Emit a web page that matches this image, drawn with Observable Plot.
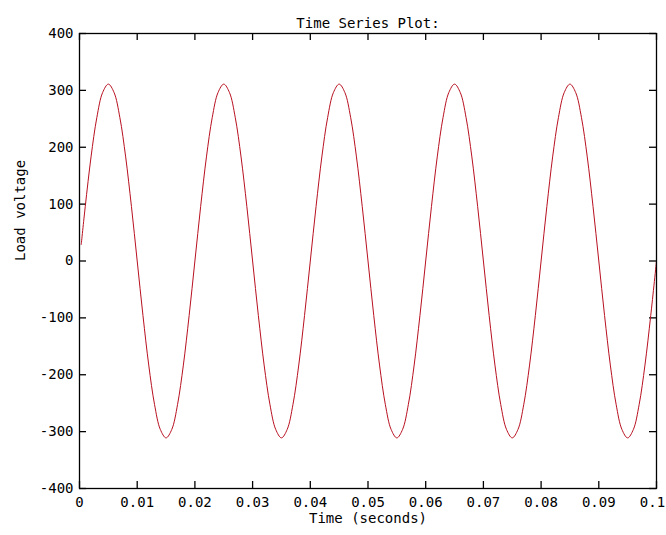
<!DOCTYPE html>
<html><head><meta charset="utf-8">
<script src="https://cdn.jsdelivr.net/npm/d3@7"></script>
<script src="https://cdn.jsdelivr.net/npm/@observablehq/plot@0.6"></script>
<style>body{margin:0;background:#fff} svg{display:block}</style>
</head><body><div id="chart"></div>
<script>
const title = "Time Series Plot:";
const xLabel = "Time (seconds)";
const yLabel = "Load voltage";
const xTicks = [0, 0.01, 0.02, 0.03, 0.04, 0.05, 0.06, 0.07, 0.08, 0.09, 0.1];
const xTickLabels = ["0", "0.01", "0.02", "0.03", "0.04", "0.05", "0.06", "0.07", "0.08", "0.09", "0.1"];
const yTicks = [-400, -300, -200, -100, 0, 100, 200, 300, 400];

const time = [0.0003,
  0.001, 0.002, 0.003, 0.004, 0.005, 0.006, 0.007, 0.008, 0.009, 0.010,
  0.011, 0.012, 0.013, 0.014, 0.015, 0.016, 0.017, 0.018, 0.019, 0.020,
  0.021, 0.022, 0.023, 0.024, 0.025, 0.026, 0.027, 0.028, 0.029, 0.030,
  0.031, 0.032, 0.033, 0.034, 0.035, 0.036, 0.037, 0.038, 0.039, 0.040,
  0.041, 0.042, 0.043, 0.044, 0.045, 0.046, 0.047, 0.048, 0.049, 0.050,
  0.051, 0.052, 0.053, 0.054, 0.055, 0.056, 0.057, 0.058, 0.059, 0.060,
  0.061, 0.062, 0.063, 0.064, 0.065, 0.066, 0.067, 0.068, 0.069, 0.070,
  0.071, 0.072, 0.073, 0.074, 0.075, 0.076, 0.077, 0.078, 0.079, 0.080,
  0.081, 0.082, 0.083, 0.084, 0.085, 0.086, 0.087, 0.088, 0.089, 0.090,
  0.091, 0.092, 0.093, 0.094, 0.095, 0.096, 0.097, 0.098, 0.099, 0.100];
const voltage = [29,
  96, 183, 252, 296, 311, 296, 252, 183, 96, 0,
  -96, -183, -252, -296, -311, -296, -252, -183, -96, 0,
  96, 183, 252, 296, 311, 296, 252, 183, 96, 0,
  -96, -183, -252, -296, -311, -296, -252, -183, -96, 0,
  96, 183, 252, 296, 311, 296, 252, 183, 96, 0,
  -96, -183, -252, -296, -311, -296, -252, -183, -96, 0,
  96, 183, 252, 296, 311, 296, 252, 183, 96, 0,
  -96, -183, -252, -296, -311, -296, -252, -183, -96, 0,
  96, 183, 252, 296, 311, 296, 252, 183, 96, 0,
  -96, -183, -252, -296, -311, -296, -252, -183, -96, 0];

const data = time.map((t, i) => ({t, v: voltage[i]}));

const W = 666, H = 535, mL = 79, mR = 10, mT = 33, mB = 47;
const fw = W - mL - mR, fh = H - mT - mB;
const tick = 7;
const lastX = xTicks[xTicks.length - 1];
const xLabelFmt = d => xTickLabels[xTicks.indexOf(d)];

const chart = Plot.plot({
  width: W, height: H,
  marginLeft: mL, marginRight: mR, marginTop: mT, marginBottom: mB,
  style: {fontFamily: "'DejaVu Sans Mono', monospace", fontSize: "14px", background: "#fff", color: "#000"},
  x: {domain: [0, 0.1]},
  y: {domain: [-400, 400]},
  marks: [
    Plot.axisX({ticks: xTicks.slice(0, -1), tickSize: 0, tickPadding: 9, tickFormat: xLabelFmt, label: null}),
    Plot.axisX({ticks: [lastX], tickSize: 0, tickPadding: 9, tickFormat: xLabelFmt, label: null, dx: -4}),
    Plot.axisY({ticks: yTicks, tickSize: 0, tickPadding: 6, tickFormat: d => String(d), label: null}),
    Plot.ruleX(xTicks, {x: d => d, insetTop: fh - tick, stroke: "#000", strokeWidth: 1.3}),
    Plot.ruleX(xTicks, {x: d => d, insetBottom: fh - tick, stroke: "#000", strokeWidth: 1.3}),
    Plot.ruleY(yTicks, {y: d => d, insetRight: fw - tick, stroke: "#000", strokeWidth: 1.3}),
    Plot.ruleY(yTicks, {y: d => d, insetLeft: fw - tick, stroke: "#000", strokeWidth: 1.3}),
    Plot.line(data, {x: "t", y: "v", stroke: "#b81020", strokeWidth: 1, curve: "catmull-rom"}),
    Plot.frame({stroke: "#000", strokeWidth: 1.3}),
    Plot.text([title], {text: d => d, frameAnchor: "top", dy: -15}),
    Plot.text([xLabel], {text: d => d, frameAnchor: "bottom", dy: 34}),
    Plot.text([yLabel], {text: d => d, frameAnchor: "left", dx: -59, rotate: -90})
  ]
});
document.getElementById("chart").append(chart);
</script>
</body></html>
